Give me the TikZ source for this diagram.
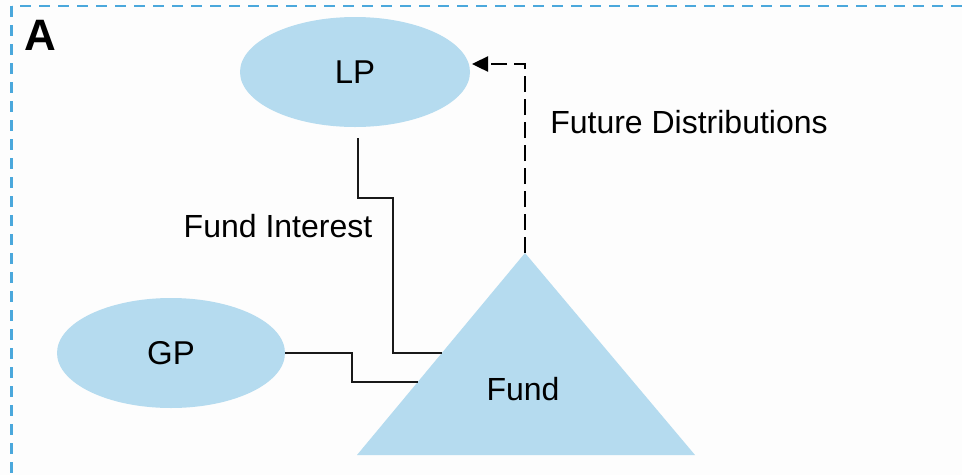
\documentclass[tikz,border=0pt]{standalone}
\usepackage{fontspec}
\setmainfont{Liberation Sans}
\usetikzlibrary{shapes.geometric,arrows.meta}
\definecolor{bgc}{HTML}{FDFDFD}
\definecolor{frame}{HTML}{4BA8DC}
\definecolor{shapeblue}{HTML}{B5DBEF}
\tikzset{
  blob/.style={ellipse,fill=shapeblue,draw=none,inner sep=0pt,font=\fontsize{33}{38}\selectfont},
  lbl/.style={font=\fontsize{32}{37}\selectfont,inner sep=0pt},
  link/.style={line width=1.5pt,draw=black!90},
  future/.style={line width=2.4pt,dash pattern=on 16pt off 7pt,-{Triangle[length=16pt,width=15pt]}}
}
\begin{document}
\begin{tikzpicture}[x=1pt,y=-1pt]
\useasboundingbox (0,0) rectangle (962,475);
\fill[bgc] (0,0) rectangle (962,475);
\begin{scope}
\clip (0,0) rectangle (962,475);
\draw[frame,line width=2.2pt,dash pattern=on 11pt off 8pt] (11.5,6) rectangle (990,500);
\end{scope}
\node[font=\fontsize{44}{48}\selectfont\bfseries,inner sep=0pt] (A) at (40.5,35) {A};
% triangle
\coordinate (apex) at (525,253);
\coordinate (bl) at (357,455);
\coordinate (br) at (695,455);
\fill[shapeblue] (apex) -- (br) -- (bl) -- cycle;
\node[lbl] (fund) at (523,389) {Fund};
\node[blob,minimum width=230pt,minimum height=110pt] (lp) at (355,72) {LP};
\node[blob,minimum width=228pt,minimum height=110pt] (gp) at (171,353) {GP};
\node[lbl] (fi) at (278,226) {Fund Interest};
\node[lbl] (fd) at (689,122) {Future Distributions};
% connectors
\coordinate (lpout) at (358,138);
\coordinate (fundin1) at (442,353);
\coordinate (fundin2) at (418,382);
\draw[link] (lpout) |- (393,198) |- (fundin1);
\draw[link] (gp.east) -| (352,382) -- (fundin2);
\coordinate (lptip) at (472,64);
\draw[future] (apex) |- (lptip);
\end{tikzpicture}
\end{document}
